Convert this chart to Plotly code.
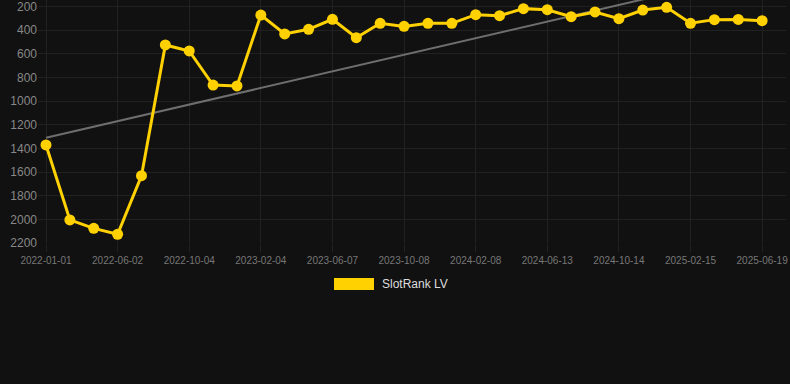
import numpy as np
import plotly.graph_objects as go

dates = [
    "2022-01-01", "2022-02-20", "2022-04-11", "2022-06-02", "2022-07-13", "2022-08-23",
    "2022-10-04", "2022-11-14", "2022-12-25", "2023-02-04", "2023-03-17", "2023-04-27",
    "2023-06-07", "2023-07-18", "2023-08-28", "2023-10-08", "2023-11-18", "2023-12-29",
    "2024-02-08", "2024-03-21", "2024-05-02", "2024-06-13", "2024-07-24", "2024-09-03",
    "2024-10-14", "2024-11-24", "2025-01-04", "2025-02-15", "2025-03-28", "2025-05-09",
    "2025-06-19",
]
rank_lv = [
    1371, 2005, 2076, 2126, 1631, 525, 576, 864, 872, 272, 432, 393,
    308, 464, 342, 368, 342, 342, 269, 278, 218, 227, 286, 246,
    303, 230, 207, 342, 311, 309, 320,
]
tick_labels = dates[::3]
y_ticks = [200, 400, 600, 800, 1000, 1200, 1400, 1600, 1800, 2000, 2200]
series_name = "SlotRank LV"

# linear trend of the series
idx = np.arange(len(rank_lv))
slope, intercept = np.polyfit(idx, rank_lv, 1)
trend = slope * idx + intercept

W, H = 790, 384
L, R, T, B = 38, 4, 0, 141
GOLD = "#FFD100"
GRID = "#212121"

fig = go.Figure()
fig.add_trace(go.Scatter(
    x=dates, y=trend, mode="lines",
    line=dict(color="#6e6e6e", width=2),
    showlegend=False, hoverinfo="skip", cliponaxis=True,
))
fig.add_trace(go.Scatter(
    x=dates, y=rank_lv, mode="lines+markers", name=series_name,
    line=dict(color=GOLD, width=3),
    marker=dict(color=GOLD, size=11),
    showlegend=False, cliponaxis=False,
))

pw = W - L - R
ph = H - T - B
def px_x(p):
    return (p - L) / pw
def px_y(p):
    return 1 - (p - T) / ph

fig.add_shape(type="rect", xref="paper", yref="paper",
              x0=px_x(334), x1=px_x(374), y0=px_y(290), y1=px_y(278),
              fillcolor=GOLD, line=dict(width=0))
fig.add_annotation(xref="paper", yref="paper", x=px_x(380), y=px_y(284),
                   text=series_name, showarrow=False, xanchor="left", yanchor="middle",
                   font=dict(family="Liberation Sans, Arial", size=12, color="#dddddd"))

fig.update_layout(
    width=W, height=H,
    margin=dict(l=L, r=R, t=T, b=B),
    paper_bgcolor="#111111", plot_bgcolor="#111111",
    font=dict(family="Liberation Sans, Arial", color="#888888"),
    showlegend=False,
)
fig.update_xaxes(
    type="category", range=[-0.335, 31.0],
    tickmode="array", tickvals=tick_labels, ticktext=tick_labels,
    showgrid=True, gridcolor=GRID, gridwidth=1,
    ticks="outside", ticklen=8, tickcolor=GRID,
    tickfont=dict(size=10, color="#777777"),
    ticklabeloverflow="allow",
    showline=False, zeroline=False,
)
fig.update_yaxes(
    range=[2200, 145],
    tickmode="array", tickvals=y_ticks,
    showgrid=True, gridcolor=GRID, gridwidth=1,
    tickfont=dict(size=12, color="#888888"),
    ticklabeloverflow="allow",
    showline=False, zeroline=False,
)

fig.write_html(
    "out.html",
    config={"displayModeBar": False},
    post_script="document.body.style.margin='0';document.body.style.background='#111111';",
)
